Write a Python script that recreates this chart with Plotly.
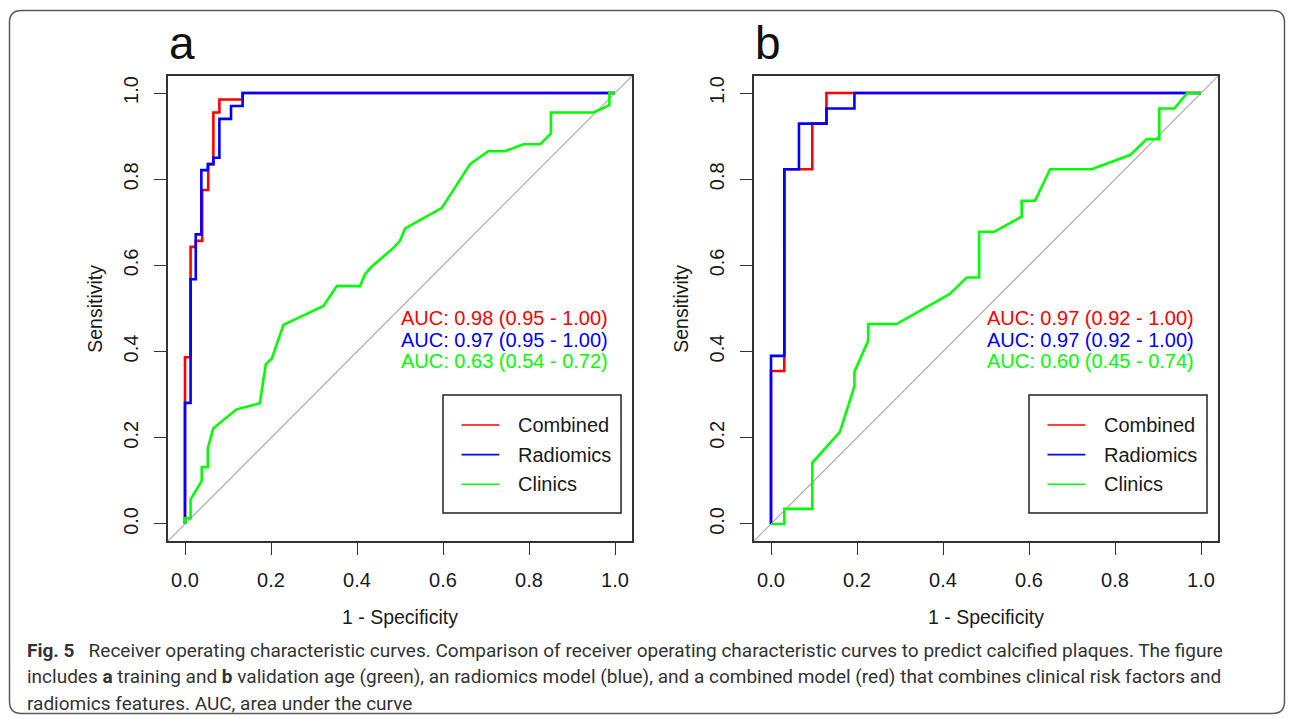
import plotly.graph_objects as go

W, H = 1293, 719

# ---------------- data ----------------
TICK_VALUES = [0.0, 0.2, 0.4, 0.6, 0.8, 1.0]
TICK_LABELS = ["0.0", "0.2", "0.4", "0.6", "0.8", "1.0"]
SERIES_NAMES = ["Combined", "Radiomics", "Clinics"]
SERIES_COLORS = ["#FF0000", "#0000FF", "#00FF00"]
PANEL_LABELS = ["a", "b"]

# panel a (training)
A_COMBINED_FPR = [0, 0, 0.013, 0.013, 0.025, 0.025, 0.040, 0.040, 0.054, 0.054, 0.066, 0.066, 0.080, 0.080, 0.134, 0.134, 1.0]
A_COMBINED_TPR = [0, 0.387, 0.387, 0.643, 0.643, 0.657, 0.657, 0.775, 0.775, 0.835, 0.835, 0.955, 0.955, 0.985, 0.985, 1.0, 1.0]
A_RADIOMICS_FPR = [0, 0, 0.013, 0.013, 0.025, 0.025, 0.038, 0.038, 0.053, 0.053, 0.066, 0.066, 0.080, 0.080, 0.107, 0.107, 0.134, 0.134, 1.0]
A_RADIOMICS_TPR = [0, 0.281, 0.281, 0.568, 0.568, 0.672, 0.672, 0.821, 0.821, 0.835, 0.835, 0.850, 0.850, 0.940, 0.940, 0.970, 0.970, 1.0, 1.0]
A_CLINICS_FPR = [0, 0, 0.013, 0.013, 0.039, 0.039, 0.053, 0.053, 0.066, 0.120,
                 0.174, 0.188, 0.202, 0.229, 0.322, 0.353, 0.407, 0.419, 0.434, 0.484,
                 0.500, 0.512, 0.597, 0.632, 0.663, 0.705, 0.744, 0.787, 0.826, 0.851,
                 0.851, 0.950, 0.987, 0.987, 1.0]
A_CLINICS_TPR = [0, 0.013, 0.013, 0.057, 0.100, 0.132, 0.132, 0.176, 0.222, 0.266,
                 0.280, 0.371, 0.384, 0.462, 0.506, 0.552, 0.552, 0.580, 0.597, 0.640,
                 0.657, 0.686, 0.733, 0.787, 0.835, 0.865, 0.865, 0.881, 0.881, 0.906,
                 0.955, 0.955, 0.972, 1.0, 1.0]
A_AUC_TEXT = ["AUC: 0.98 (0.95 - 1.00)", "AUC: 0.97 (0.95 - 1.00)", "AUC: 0.63 (0.54 - 0.72)"]

# panel b (validation)
B_COMBINED_FPR = [0, 0, 0.031, 0.031, 0.096, 0.096, 0.129, 0.129, 1.0]
B_COMBINED_TPR = [0, 0.355, 0.355, 0.823, 0.823, 0.929, 0.929, 1.0, 1.0]
B_RADIOMICS_FPR = [0, 0, 0.031, 0.031, 0.065, 0.065, 0.129, 0.129, 0.194, 0.194, 1.0]
B_RADIOMICS_TPR = [0, 0.390, 0.390, 0.823, 0.823, 0.929, 0.929, 0.964, 0.964, 1.0, 1.0]
B_CLINICS_FPR = [0, 0.031, 0.031, 0.096, 0.096, 0.160, 0.194, 0.194, 0.226, 0.226,
                 0.292, 0.416, 0.455, 0.484, 0.484, 0.519, 0.583, 0.583, 0.614, 0.649,
                 0.746, 0.835, 0.874, 0.903, 0.903, 0.938, 0.968, 1.0]
B_CLINICS_TPR = [0, 0, 0.035, 0.035, 0.142, 0.213, 0.319, 0.353, 0.425, 0.464,
                 0.464, 0.534, 0.572, 0.572, 0.678, 0.678, 0.713, 0.750, 0.750, 0.823,
                 0.823, 0.856, 0.893, 0.893, 0.964, 0.964, 1.0, 1.0]
B_AUC_TEXT = ["AUC: 0.97 (0.92 - 1.00)", "AUC: 0.97 (0.92 - 1.00)", "AUC: 0.60 (0.45 - 0.74)"]

X_TITLE = "1 - Specificity"
Y_TITLE = "Sensitivity"
CAPTION_LINES = [
    "<b>Fig. 5</b>\u00a0\u00a0 Receiver operating characteristic curves. Comparison of receiver operating characteristic curves to predict calcified plaques. The figure",
    "includes <b>a</b> training and <b>b</b> validation age (green), an radiomics model (blue), and a combined model (red) that combines clinical risk factors and",
    "radiomics features. AUC, area under the curve",
]

PANELS = [
    dict(curves=[(A_COMBINED_FPR, A_COMBINED_TPR), (A_RADIOMICS_FPR, A_RADIOMICS_TPR), (A_CLINICS_FPR, A_CLINICS_TPR)],
         auc=A_AUC_TEXT),
    dict(curves=[(B_COMBINED_FPR, B_COMBINED_TPR), (B_RADIOMICS_FPR, B_RADIOMICS_TPR), (B_CLINICS_FPR, B_CLINICS_TPR)],
         auc=B_AUC_TEXT),
]

# ---------------- layout geometry (pixels) ----------------
PLOT_FONT = "Liberation Sans, Arial, sans-serif"
CAP_FONT = "Roboto, Open Sans, sans-serif"
TXT = "#1a1a1a"
FRAME = "#333333"
RANGE = [-0.04, 1.04]
X_FRAMES = [(167.8, 632.2), (753.8, 1218.2)]
Y_FRAME = (75.8, 541.2)


def px(x):
    return x / W


def py(y):
    return 1 - y / H


fig = go.Figure()
layout = dict(
    width=W, height=H, autosize=False,
    margin=dict(l=0, r=0, t=0, b=0),
    paper_bgcolor="white", plot_bgcolor="white",
    showlegend=False,
)
annotations = []
shapes = []

for i, panel in enumerate(PANELS):
    sfx = "" if i == 0 else str(i + 1)
    xa, ya = "x" + sfx, "y" + sfx
    x0, x1 = X_FRAMES[i]
    axis_common = dict(
        range=RANGE, showline=True, linecolor=FRAME, linewidth=1.6, mirror=True,
        ticks="outside", ticklen=12, tickwidth=1.4, tickcolor=FRAME,
        tickvals=TICK_VALUES, ticktext=TICK_LABELS, showgrid=False, zeroline=False,
        tickfont=dict(family=PLOT_FONT, size=20, color=TXT), fixedrange=True,
    )
    layout["xaxis" + sfx] = dict(axis_common, domain=[px(x0), px(x1)], anchor=ya, ticklabelstandoff=8)
    layout["yaxis" + sfx] = dict(axis_common, domain=[py(Y_FRAME[1]), py(Y_FRAME[0])], anchor=xa,
                                 tickangle=-90, ticklabelstandoff=8)

    # diagonal reference line
    shapes.append(dict(type="line", xref=xa, yref=ya, x0=RANGE[0], y0=RANGE[0], x1=RANGE[1], y1=RANGE[1],
                       line=dict(color="#ababab", width=1.2), layer="below"))

    for (fpr, tpr), name, color in zip(panel["curves"], SERIES_NAMES, SERIES_COLORS):
        fig.add_trace(go.Scatter(x=fpr, y=tpr, mode="lines", name=name, xaxis=xa, yaxis=ya,
                                 line=dict(color=color, width=2.6), hoverinfo="skip"))

    # AUC texts
    for j, (txt, color) in enumerate(zip(panel["auc"], SERIES_COLORS)):
        annotations.append(dict(xref=xa, yref=ya, x=0.497, y=0.477 - 0.049 * j, text=txt, showarrow=False,
                                xanchor="left", yanchor="middle",
                                font=dict(family=PLOT_FONT, size=20, color=color)))

    # legend box
    shapes.append(dict(type="rect", xref=xa, yref=ya, x0=0.6, x1=1.014, y0=0.0255, y1=0.299,
                       line=dict(color="#222222", width=1.5), fillcolor="white", layer="below"))
    for j, (name, color) in enumerate(zip(SERIES_NAMES, SERIES_COLORS)):
        yy = 0.2297 - 0.0688 * j
        shapes.append(dict(type="line", xref=xa, yref=ya, x0=0.643, x1=0.731, y0=yy, y1=yy,
                           line=dict(color=color, width=1.6)))
        annotations.append(dict(xref=xa, yref=ya, x=0.769, y=yy, text=name, showarrow=False,
                                xanchor="left", yanchor="middle",
                                font=dict(family=PLOT_FONT, size=20, color=TXT)))

    # axis titles
    cx = (x0 + x1) / 2
    annotations.append(dict(xref="paper", yref="paper", x=px(cx), y=py(617), text=X_TITLE, showarrow=False,
                            xanchor="center", yanchor="middle",
                            font=dict(family=PLOT_FONT, size=19.5, color=TXT)))
    annotations.append(dict(xref="paper", yref="paper", x=px(x0 - 73.5), y=py(308.5), text=Y_TITLE,
                            showarrow=False, textangle=-90, xanchor="center", yanchor="middle",
                            font=dict(family=PLOT_FONT, size=19.5, color=TXT)))
    # panel label
    annotations.append(dict(xref="paper", yref="paper", x=px(x0 + 14.5), y=py(43), text=PANEL_LABELS[i],
                            showarrow=False, xanchor="center", yanchor="middle",
                            font=dict(family=PLOT_FONT, size=46, color="#111111")))

# caption
for k, line in enumerate(CAPTION_LINES):
    annotations.append(dict(xref="paper", yref="paper", x=px(25), y=py(650 + 26.5 * k), text=line,
                            showarrow=False, xanchor="left", yanchor="middle", align="left",
                            font=dict(family=CAP_FONT, size=19, color="#333333")))

# outer rounded border
bx0, by0, bx1, by1, r = 9.5, 10.5, 1284.5, 713.5, 12
rx, ry = r / W, r / H
X0, X1, Y0, Y1 = px(bx0), px(bx1), py(by0), py(by1)
path = (f"M {X0 + rx},{Y0} L {X1 - rx},{Y0} Q {X1},{Y0} {X1},{Y0 - ry} "
        f"L {X1},{Y1 + ry} Q {X1},{Y1} {X1 - rx},{Y1} L {X0 + rx},{Y1} Q {X0},{Y1} {X0},{Y1 + ry} "
        f"L {X0},{Y0 - ry} Q {X0},{Y0} {X0 + rx},{Y0} Z")
shapes.append(dict(type="path", xref="paper", yref="paper", path=path,
                   line=dict(color="#5a5a5a", width=1.5), layer="below"))

layout["annotations"] = annotations
layout["shapes"] = shapes
fig.update_layout(**layout)
fig.write_html("out.html", config={"displayModeBar": False})
